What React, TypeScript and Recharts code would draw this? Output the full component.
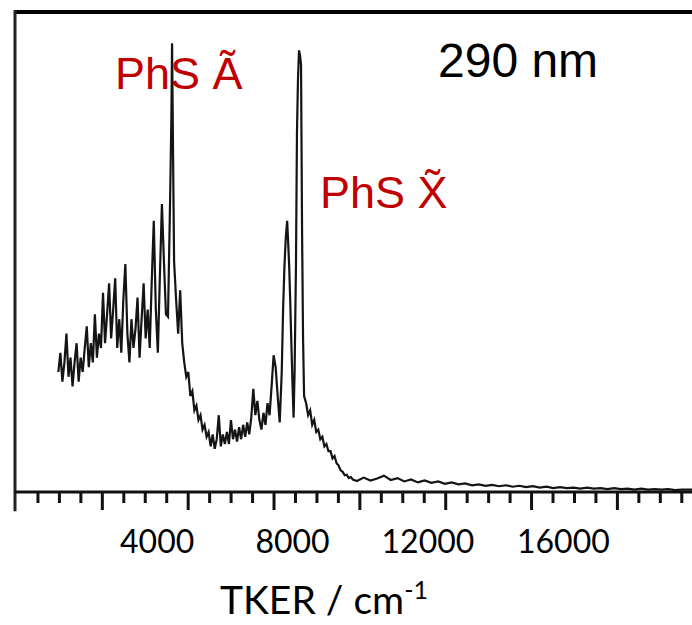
import { LineChart, Line, XAxis, YAxis, ReferenceLine } from "recharts";

// TKER (cm-1) sample positions and signal (arb. units, 0-100)
const TKER = [
  1080, 1140, 1200, 1260, 1320, 1380, 1440, 1500, 1560, 1620, 1680, 1740, 1800, 1860, 1920, 1980,
  2040, 2100, 2160, 2220, 2280, 2340, 2400, 2460, 2520, 2580, 2640, 2700, 2760, 2820, 2880, 2940,
  3000, 3060, 3120, 3180, 3240, 3300, 3360, 3420, 3480, 3540, 3600, 3660, 3720, 3780, 3840, 3900,
  3960, 4020, 4080, 4140, 4200, 4260, 4320, 4380, 4420, 4440, 4470, 4500, 4560, 4620, 4680, 4740,
  4800, 4860, 4920, 4980, 5040, 5100, 5160, 5220, 5280, 5340, 5400, 5460, 5520, 5580, 5640, 5700,
  5760, 5820, 5880, 5940, 6000, 6060, 6120, 6180, 6240, 6300, 6360, 6420, 6480, 6540, 6600, 6660,
  6720, 6780, 6840, 6900, 6960, 7020, 7080, 7140, 7200, 7260, 7320, 7380, 7440, 7500, 7560, 7620,
  7680, 7720, 7760, 7800, 7840, 7870, 7900, 7930, 7960, 8000, 8030, 8060, 8100, 8130, 8160, 8190,
  8220, 8250, 8280, 8310, 8340, 8400, 8460, 8520, 8580, 8640, 8700, 8760, 8820, 8880, 8940, 9000,
  9060, 9120, 9180, 9240, 9300, 9360, 9420, 9480, 9540, 9600, 9660, 9720, 9780,
  9900, 10100, 10300, 10500, 10700, 10900, 11100, 11300, 11500, 11700, 11900, 12100, 12300, 12500,
  12700, 12900, 13100, 13300, 13500, 13700, 13900, 14100, 14300, 14500, 14700, 14900, 15100, 15300,
  15500, 15700, 15900, 16100, 16300, 16500, 16700, 16900, 17100, 17300, 17500, 17700, 17900, 18100,
  18300, 18500, 18700, 18900, 19100, 19300, 19500, 19800,
];

const SIGNAL = [
  25, 29, 23, 27, 33, 24, 28, 22, 27, 31, 23, 28, 25, 30, 34.5, 26,
  31, 27, 37, 28, 33, 30, 41.5, 31, 37, 43.5, 32, 38, 44.5, 30, 36, 29,
  40, 47.5, 33, 27, 36, 30, 34, 40.5, 28, 36, 43.5, 32, 38, 30, 44, 56.5,
  38, 29, 45, 60, 48, 37, 36.5, 60, 78, 93.5, 70, 48, 40, 33, 42, 31,
  27, 24, 25, 20, 21, 17, 18, 15, 16, 13, 14, 11.5, 12.5, 9.5, 12, 9,
  11, 16, 9.5, 12, 10, 12.5, 10, 15, 11, 13, 10.5, 13.5, 11, 14, 11.5, 14.5,
  12, 15.5, 21.5, 16, 19, 15, 13, 16.5, 14, 18.5, 16, 22, 28.5, 26, 20, 14.5,
  25, 38, 47, 53, 56.5, 52, 47, 40, 32, 22, 15.5, 25, 47, 75, 86, 92,
  91, 89, 55, 32, 20, 18.5, 16, 17, 14, 15, 12.5, 13, 11, 11.5, 9.5, 10,
  8.5, 8.5, 7, 7.5, 6, 5.5, 4.5, 4.2, 3.5, 3.6, 2.9, 3.1, 2.6,
  2.3, 3.0, 2.4, 2.8, 3.4, 2.5, 2.9, 2.2, 2.6, 2.0, 2.4, 1.9, 2.2, 1.7,
  2.0, 1.6, 1.8, 1.4, 1.6, 1.3, 1.5, 1.2, 1.4, 1.1, 1.3, 1.0, 1.2, 0.9,
  1.1, 0.8, 1.0, 0.8, 0.9, 0.7, 0.9, 0.7, 0.8, 0.6, 0.8, 0.6, 0.7, 0.5,
  0.7, 0.5, 0.6, 0.5, 0.6, 0.4, 0.5, 0.5,
];

const LABEL_TICKS = [4000, 8000, 12000, 16000];
// tick marks on the original axis are not aligned with the labels; every 4th is long
const MARK_STEP = 634;
const MARK_TICKS = Array.from({ length: 31 }, (_, i) => -156 + MARK_STEP * (i + 1));

const data = TKER.map((t, i) => ({ tker: t, signal: SIGNAL[i] }));

const RED = "#c00000";

function AxisTick(props: any) {
  const { x, y, payload } = props;
  const v = payload.value;
  if (LABEL_TICKS.includes(v)) {
    return (
      <text x={x} y={y + 61} textAnchor="middle" fontFamily="Lato, sans-serif" fontSize={32} fill="#000">
        {v}
      </text>
    );
  }
  const i = MARK_TICKS.indexOf(v);
  const major = (i + 1) % 4 === 0;
  return <line x1={x} x2={x} y1={y} y2={y + (major ? 18 : 11)} stroke="#111" strokeWidth={3} />;
}

function AxisTitle() {
  return (
    <text x={220} y={614} fontFamily="Lato, sans-serif" fontSize={39} fill="#000">
      TKER / cm
      <tspan dy={-15} fontSize={25}>-1</tspan>
    </text>
  );
}

export default function App() {
  return (
    <div style={{ position: "absolute", left: 0, top: 0, width: 692, height: 625, background: "#fff" }}>
      <LineChart width={692} height={625} data={data} margin={{ top: 12, right: 0, left: 15, bottom: 0 }}>
        <XAxis
          dataKey="tker"
          type="number"
          domain={[-200, 19800]}
          ticks={[...MARK_TICKS, ...LABEL_TICKS]}
          interval={0}
          tickSize={0}
          tickMargin={0}
          tickLine={false}
          axisLine={{ stroke: "#111", strokeWidth: 3 }}
          tick={<AxisTick />}
          height={133}
          label={<AxisTitle />}
        />
        <YAxis type="number" domain={[0, 100]} hide />
        <ReferenceLine y={100} stroke="#000" strokeWidth={4} />
        <ReferenceLine
          segment={[{ x: -200, y: -4 }, { x: -200, y: 100.4 }]}
          ifOverflow="visible"
          stroke="#222"
          strokeWidth={3}
        />
        <Line
          type="linear"
          dataKey="signal"
          stroke="#141414"
          strokeWidth={2.2}
          strokeLinejoin="miter"
          dot={false}
          isAnimationActive={false}
        />
      </LineChart>
      <div style={{ position: "absolute", left: 115, top: 51, fontFamily: "'Liberation Sans', Arial, sans-serif", fontSize: 45, lineHeight: 1, color: RED, whiteSpace: "nowrap" }}>
        PhS Ã
      </div>
      <div style={{ position: "absolute", left: 320, top: 170, fontFamily: "'Liberation Sans', Arial, sans-serif", fontSize: 45, lineHeight: 1, color: RED, whiteSpace: "nowrap" }}>
        PhS X̃
      </div>
      <div style={{ position: "absolute", left: 438, top: 37, fontFamily: "'Liberation Sans', Arial, sans-serif", fontSize: 48, lineHeight: 1, color: "#000", whiteSpace: "nowrap" }}>
        290 nm
      </div>
    </div>
  );
}
